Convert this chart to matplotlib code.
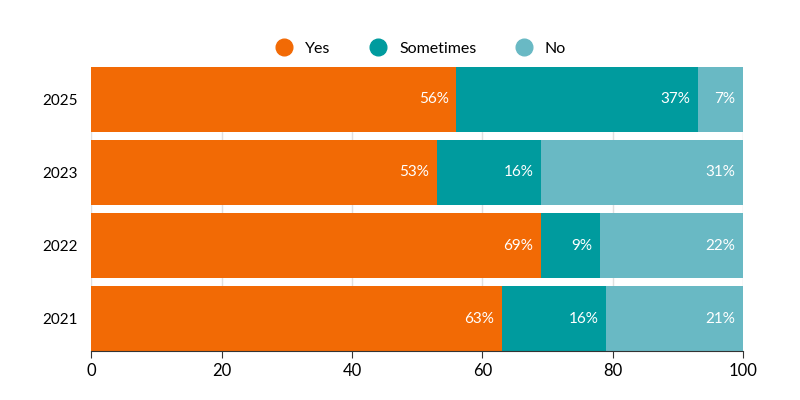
import matplotlib
matplotlib.use("Agg")
import matplotlib.pyplot as plt
import numpy as np

plt.rcParams["font.family"] = "Lato"

years = ["2021", "2022", "2023", "2025"]
yes = [63, 69, 53, 56]
sometimes = [16, 9, 16, 37]
no = [21, 22, 31, 7]

colors = ["#F26A05", "#009B9E", "#69B9C4"]
names = ["Yes", "Sometimes", "No"]

fig = plt.figure(figsize=(8, 4), dpi=100)
ax = fig.add_axes([0.114, 0.1225, 0.815, 0.71])
y = np.arange(len(years))
h = 0.89
left = np.zeros(len(years))
for vals, c, n in zip([yes, sometimes, no], colors, names):
    vals = np.array(vals)
    ax.barh(y, vals, left=left, height=h, color=c, label=n, zorder=2)
    for yi, l, v in zip(y, left, vals):
        ax.text(l + v - 1.2, yi, f"{v}%", ha="right", va="center", color="white", fontsize=11, zorder=3)
    left += vals

ax.set_xlim(0, 100)
ax.set_ylim(-h/2, len(years) - 1 + h/2)
ax.set_yticks(y)
ax.set_yticklabels(years)
ax.set_xticks([0, 20, 40, 60, 80, 100])
ax.grid(axis="x", color="#e0e0e0", linewidth=1, zorder=0)
for s in ax.spines.values():
    s.set_visible(False)
ax.spines["bottom"].set_visible(True)
ax.spines["bottom"].set_color("#333333")
ax.tick_params(axis="y", length=0, labelsize=11, pad=10)
ax.tick_params(axis="x", labelsize=12, length=5, color="#333333")

ax.legend(loc="lower center", bbox_to_anchor=(0.5, 1.0), ncol=3, frameon=False,
          fontsize=11.5, handlelength=1, handleheight=1, columnspacing=2.2,
          handletextpad=0.5, borderaxespad=0.3)
for hnd in ax.get_legend().legend_handles:
    pass
# circular legend markers
from matplotlib.lines import Line2D
handles = [Line2D([0], [0], marker="o", linestyle="", markersize=12, color=c) for c in colors]
ax.legend(handles, names, loc="lower center", bbox_to_anchor=(0.5, 1.0), ncol=3, frameon=False,
          fontsize=11.5, columnspacing=2.0, handletextpad=0.3, borderaxespad=0.3)

fig.savefig("out.png", dpi=100)
